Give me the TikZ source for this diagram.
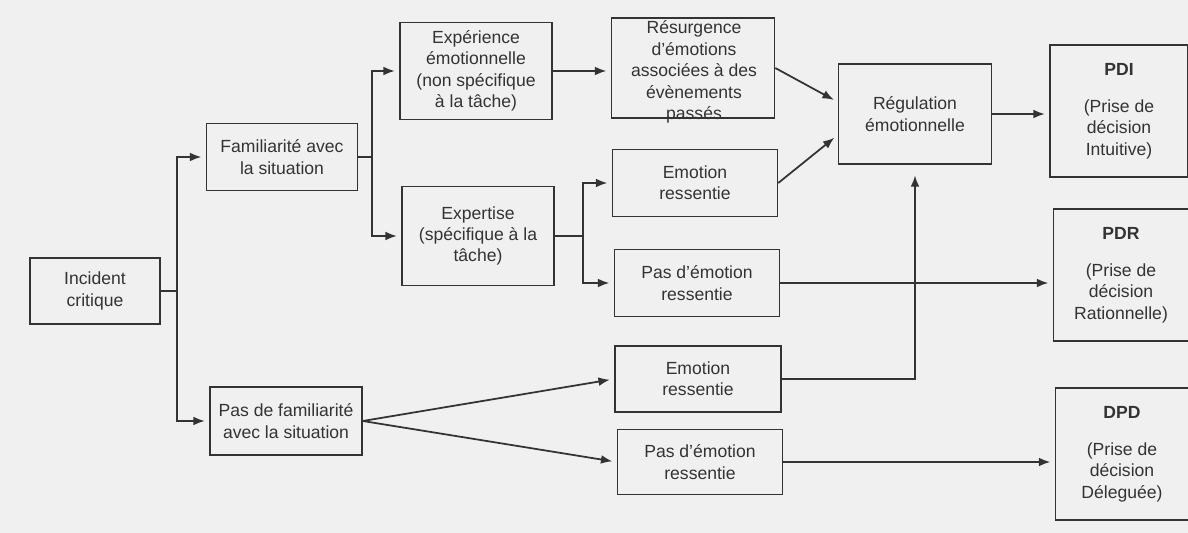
\documentclass[tikz,border=0pt]{standalone}
\usepackage{fontspec}
\setmainfont{Liberation Sans}
\usepackage[]{xcolor}
\usetikzlibrary{arrows.meta}

\begin{document}
\begin{tikzpicture}[
            x=0.02cm, y=-0.02cm,
            etape/.style={rectangle, draw=black!80, line width=0.9pt, align=center, inner sep=2pt, text=black!80, font=\fontsize{10}{12.2}\selectfont},
            decision/.style={etape, minimum width=2.76cm, minimum height=2.64cm},
            arrow/.style={-{Latex[length=6.5pt,width=5pt]}, line width=1pt, draw=black!80, shorten >=2.5pt}
        ]
            \fill[black!6] (0,0) rectangle (1188,533);
            \useasboundingbox (0,0) rectangle (1188,533);

            \node[etape, minimum width=2.6cm, minimum height=1.32cm] (inc) at (95,291) {Incident\\critique};
            \node[etape, minimum width=3.02cm, minimum height=1.34cm] (fam) at (282,157) {Familiarité avec\\la situation};
            \node[etape, minimum width=3.04cm, minimum height=1.36cm] (pasfam) at (286,421) {Pas de familiarité\\avec la situation};

            \node[etape, minimum width=3.04cm, minimum height=1.94cm] (exp) at (476,71) {Expérience\\émotionnelle\\(non spécifique\\à la tâche)};
            \node[etape, minimum width=3.04cm, minimum height=1.98cm] (expt) at (478,236) {Expertise\\(spécifique à la\\tâche)};

            \node[etape, minimum width=3.26cm, minimum height=2cm] (res) at (693,68) {};
            \node[align=center, inner sep=0pt, text=black!80, font=\fontsize{10}{12.2}\selectfont] (restexte) at (694,72) {Résurgence\\d’émotions\\associées à des\\évènements\\passés};
            \node[etape, minimum width=3.3cm, minimum height=1.34cm] (emo1) at (695,183) {Emotion\\ressentie};
            \node[etape, minimum width=3.3cm, minimum height=1.34cm] (pas1) at (697,283) {Pas d’émotion\\ressentie};
            \node[etape, minimum width=3.32cm, minimum height=1.32cm] (emo2) at (698,379) {Emotion\\ressentie};
            \node[etape, minimum width=3.3cm, minimum height=1.3cm] (pas2) at (700,462) {Pas d’émotion\\ressentie};

            \node[etape, minimum width=3.06cm, minimum height=2cm] (reg) at (915,114) {Régulation\\émotionnelle};

            \node[decision] (pdi) at (1119,111) {\textbf{PDI}\\[9pt](Prise de\\décision\\Intuitive)};
            \node[decision, minimum width=2.7cm] (pdr) at (1121,275) {\textbf{PDR}\\[9pt](Prise de\\décision\\Rationnelle)};
            \node[decision, minimum width=2.66cm] (dpd) at (1122,454) {\textbf{DPD}\\[9pt](Prise de\\décision\\Déleguée)};

            % incident -> familiarite / pas de familiarite
            \draw[arrow] (inc.east) -- ++(16,0) |- (fam);
            \draw[arrow] (inc.east) -- ++(16,0) |- (pasfam);
            \draw[arrow] (fam.east) -- ++(14,0) |- (exp);
            \draw[arrow] (fam.east) -- ++(14,0) |- (expt);
            \draw[arrow] (exp) -- (exp -| res.west);
            \draw[arrow] (expt.east) -- ++(28,0) |- (emo1);
            \draw[arrow] (expt.east) -- ++(28,0) |- (pas1);
            \draw[arrow] (pasfam.east) -- (emo2.west);
            \draw[arrow] (pasfam.east) -- (pas2.west);

            % vers la regulation et les decisions
            \draw[arrow] (res.east) -- ([yshift=0.24cm]reg.west);
            \draw[arrow] (emo1.east) -- ([yshift=-0.42cm]reg.west);
            \draw[arrow, shorten >=6pt] (emo2.east) -| (reg.south);
            \draw[arrow] (reg) -- (reg -| pdi.west);
            \draw[arrow] (pas1) -- (pas1 -| pdr.west);
            \draw[arrow] (pas2) -- (pas2 -| dpd.west);
        \end{tikzpicture}
\end{document}
